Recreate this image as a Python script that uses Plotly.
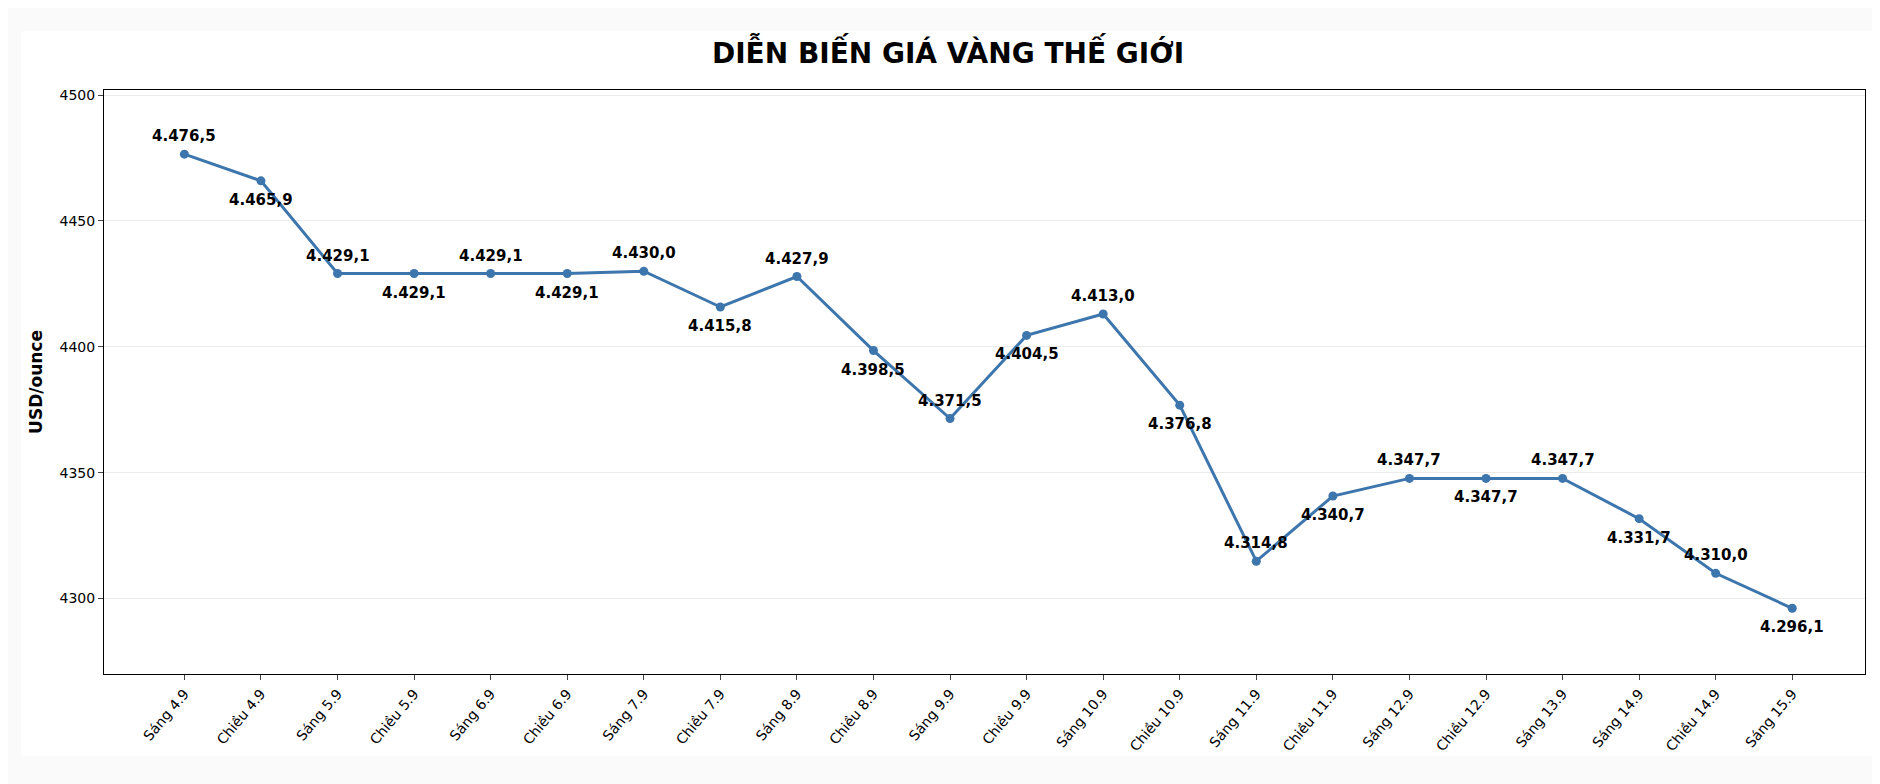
import plotly.graph_objects as go

sessions = ['Sáng 4.9', 'Chiều 4.9', 'Sáng 5.9', 'Chiều 5.9', 'Sáng 6.9', 'Chiều 6.9',
            'Sáng 7.9', 'Chiều 7.9', 'Sáng 8.9', 'Chiều 8.9', 'Sáng 9.9', 'Chiều 9.9',
            'Sáng 10.9', 'Chiều 10.9', 'Sáng 11.9', 'Chiều 11.9', 'Sáng 12.9', 'Chiều 12.9',
            'Sáng 13.9', 'Sáng 14.9', 'Chiều 14.9', 'Sáng 15.9']
prices = [4476.5, 4465.9, 4429.1, 4429.1, 4429.1, 4429.1, 4430.0, 4415.8, 4427.9, 4398.5,
          4371.5, 4404.5, 4413.0, 4376.8, 4314.8, 4340.7, 4347.7, 4347.7, 4347.7, 4331.7,
          4310.0, 4296.1]

labels = [f"{p:,.1f}".replace(',', ' ').replace('.', ',').replace(' ', '.') for p in prices]

fig = go.Figure(go.Scatter(
    x=sessions, y=prices, mode='lines+markers',
    line=dict(color='#3d76ad', width=3), marker=dict(size=9, color='#3d76ad'),
))

# value labels alternate above / below the points
for i, (s, p, t) in enumerate(zip(sessions, prices, labels)):
    fig.add_annotation(x=s, y=p, text=f'<b>{t}</b>', showarrow=False,
                       yshift=18 if i % 2 == 0 else -19,
                       font=dict(family='DejaVu Sans', size=15, color='black'))

# white card on light gray page
fig.add_shape(type='rect', xref='paper', yref='paper', x0=-0.047, x1=1.006, y0=-0.14, y1=1.10,
              fillcolor='white', line_width=0, layer='below')

fig.update_layout(
    width=1880, height=784,
    paper_bgcolor='#fafafa', plot_bgcolor='white',
    margin=dict(l=96, r=23, t=82, b=118),
    title=dict(text='<b>DIỄN BIẾN GIÁ VÀNG THẾ GIỚI</b>', x=0.5, xanchor='center', y=0.955,
               font=dict(family='DejaVu Sans', size=28, color='black')),
    font=dict(family='DejaVu Sans', size=14, color='black'),
    showlegend=False,
)
fig.update_xaxes(tickangle=-50, showline=True, linecolor='black', mirror=True, ticks='outside',
                 showgrid=False, range=[-1.05, len(sessions) - 0.05], automargin=False)
fig.update_yaxes(range=[4270, 4502], dtick=50, showline=True, linecolor='black', mirror=True,
                 ticks='outside', gridcolor='#ebebeb', zeroline=False, automargin=False,
                 title=dict(text='<b>USD/ounce</b>', font=dict(size=17), standoff=12))

fig.write_html("out.html")
